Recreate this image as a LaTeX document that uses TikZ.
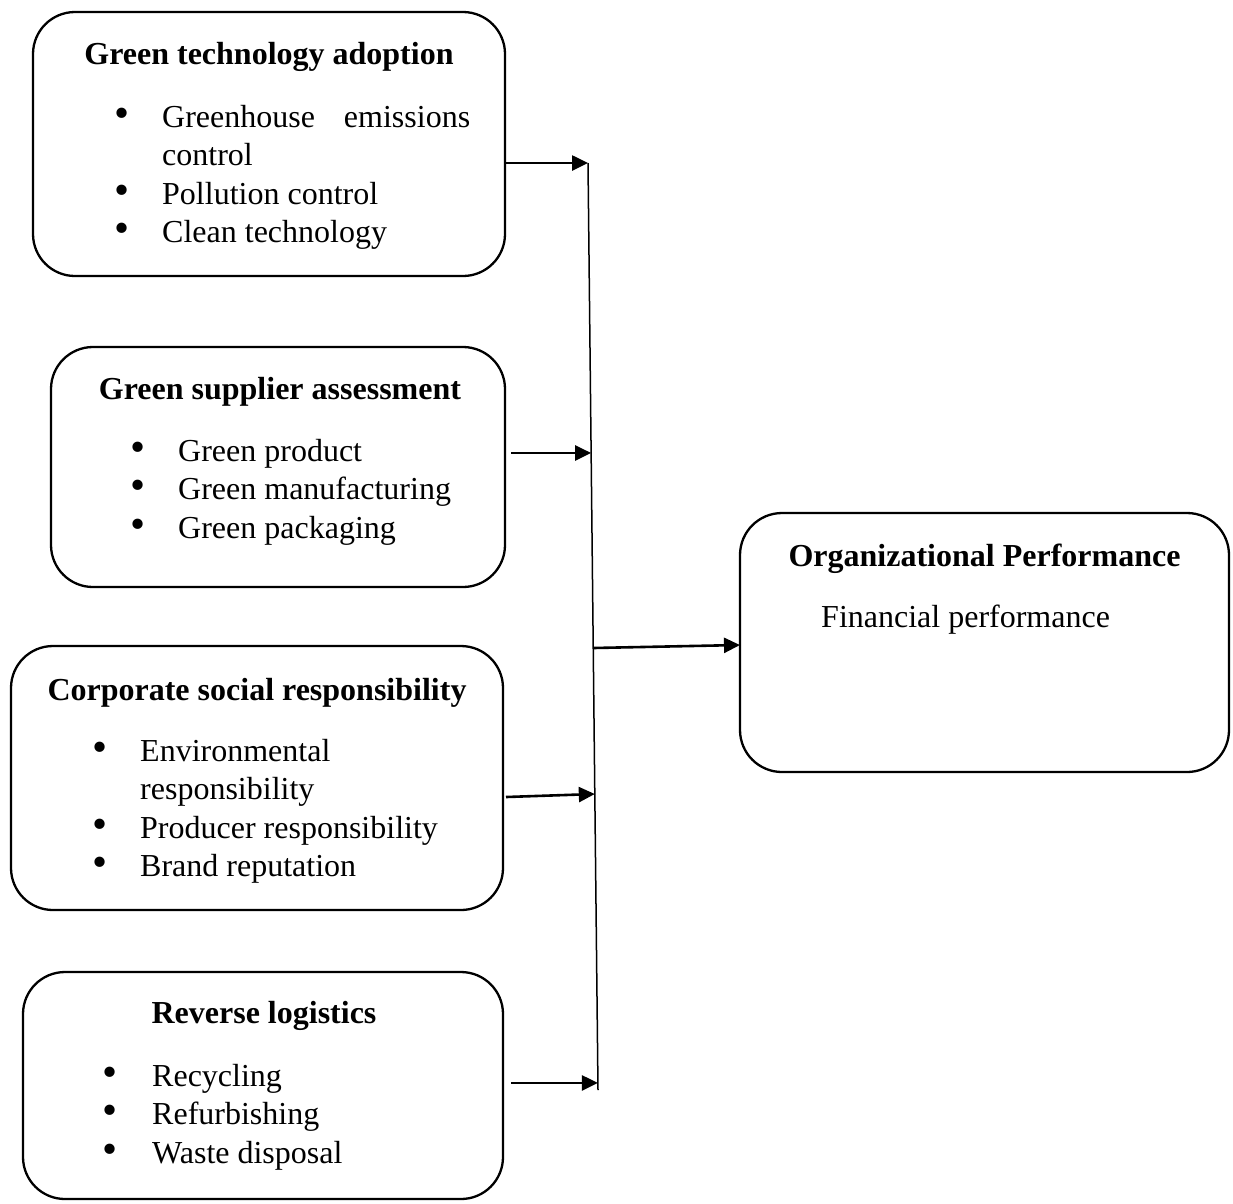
\documentclass[tikz,border=0pt]{standalone}
\usepackage{fontspec}
\setmainfont{Liberation Serif}
\usetikzlibrary{arrows.meta,calc}
\begin{document}
\begin{tikzpicture}[x=1pt,y=-1pt,
  box/.style={draw, line width=2.3pt, rounded corners=42pt, inner sep=0pt, outer sep=0pt},
  ttl/.style={anchor=base, inner sep=0pt, font=\fontsize{32}{38.5}\selectfont\bfseries},
  itm/.style={anchor=base west, inner sep=0pt, font=\fontsize{32}{38.5}\selectfont},
  bul/.style={anchor=center, inner sep=0pt, font=\fontsize{43}{43}\selectfont},
  arr/.style={line width=2.6pt, -{Triangle[length=16pt,width=15pt]}},
  bus/.style={line width=1.5pt}]
\useasboundingbox (0,0) rectangle (1233,1203);

% boxes
\node[box, minimum width=472pt, minimum height=264pt] (b1) at (269,144) {};
\node[box, minimum width=454pt, minimum height=240pt] (b2) at (278,467) {};
\node[box, minimum width=492pt, minimum height=264pt] (b3) at (257,778) {};
\node[box, minimum width=480pt, minimum height=227pt] (b4) at (263,1085.5) {};
\node[box, minimum width=489pt, minimum height=259pt] (b5) at (984.5,642.5) {};

% box 1
\node[ttl] (t1) at (269,64) {Green technology adoption};
\node[bul] (d11) at (122,117.5) {•};
\node[itm] (i11) at (162,127) {\makebox[308pt][s]{Greenhouse emissions}};
\node[itm] (i11b) at (162,165.5) {control};
\node[bul] (d12) at (122,194.5) {•};
\node[itm] (i12) at (162,204) {Pollution control};
\node[bul] (d13) at (122,233) {•};
\node[itm] (i13) at (162,242.5) {Clean technology};

% box 2
\node[ttl] (t2) at (280,399) {Green supplier assessment};
\node[bul] (d21) at (138,451.5) {•};
\node[itm] (i21) at (178,461) {Green product};
\node[bul] (d22) at (138,490) {•};
\node[itm] (i22) at (178,499.5) {Green manufacturing};
\node[bul] (d23) at (138,528.5) {•};
\node[itm] (i23) at (178,538) {Green packaging};

% box 3
\node[ttl] (t3) at (257,700) {Corporate social responsibility};
\node[bul] (d31) at (100,751.5) {•};
\node[itm] (i31) at (140,761) {Environmental};
\node[itm] (i31b) at (140,799.5) {responsibility};
\node[bul] (d32) at (100,828.5) {•};
\node[itm] (i32) at (140,838) {Producer responsibility};
\node[bul] (d33) at (100,867) {•};
\node[itm] (i33) at (140,876.5) {Brand reputation};

% box 4
\node[ttl] (t4) at (264,1023) {Reverse logistics};
\node[bul] (d41) at (110,1076.5) {•};
\node[itm] (i41) at (152,1086) {Recycling};
\node[bul] (d42) at (110,1115) {•};
\node[itm] (i42) at (152,1124.5) {Refurbishing};
\node[bul] (d43) at (110,1153.5) {•};
\node[itm] (i43) at (152,1163) {Waste disposal};

% box 5
\node[ttl] (t5) at (984.5,566) {Organizational Performance};
\node[itm] (i51) at (821,627) {Financial performance};

% bus line
\coordinate (vt) at (588,163);
\coordinate (vb) at (598,1090);
\draw[bus] (vt) -- (vb);
\coordinate (m2) at ($(vt)!0.3128!(vb)$);
\coordinate (m3) at ($(vt)!0.5232!(vb)$);
\coordinate (m4) at ($(vt)!0.6807!(vb)$);
\coordinate (m5) at ($(vt)!0.9924!(vb)$);

% arrows
\draw[arr] (b1.east |- vt) -- (vt);
\draw[arr] ([xshift=6pt]b2.east |- m2) -- (m2);
\draw[arr] (m3) -- ([yshift=-2.5pt]b5.west);
\draw[arr] ([xshift=3pt,yshift=-3pt]b3.east |- m4) -- (m4);
\draw[arr] ([xshift=8pt]b4.east |- m5) -- (m5);
\end{tikzpicture}
\end{document}
